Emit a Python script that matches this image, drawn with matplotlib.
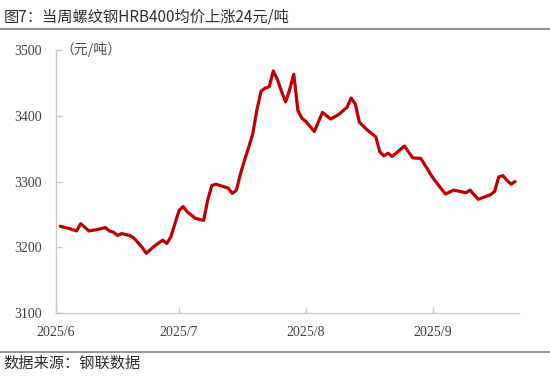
import matplotlib
matplotlib.use("Agg")
import matplotlib.pyplot as plt
from matplotlib.lines import Line2D
import pandas as pd

plt.rcParams['font.family'] = ['Noto Sans CJK SC', 'DejaVu Sans']

dates = [
    "2025-06-02", "2025-06-04", "2025-06-06", "2025-06-07", "2025-06-09", "2025-06-11",
    "2025-06-13", "2025-06-14", "2025-06-15", "2025-06-16", "2025-06-17", "2025-06-19",
    "2025-06-20", "2025-06-22", "2025-06-23", "2025-06-25", "2025-06-27", "2025-06-28",
    "2025-06-29", "2025-06-30", "2025-07-01", "2025-07-02", "2025-07-03", "2025-07-05",
    "2025-07-07", "2025-07-08", "2025-07-09", "2025-07-10", "2025-07-13", "2025-07-14",
    "2025-07-15", "2025-07-16", "2025-07-17", "2025-07-18", "2025-07-19", "2025-07-20",
    "2025-07-21", "2025-07-22", "2025-07-23", "2025-07-24", "2025-07-25", "2025-07-26",
    "2025-07-27", "2025-07-28", "2025-07-29", "2025-07-30", "2025-07-31", "2025-08-01",
    "2025-08-03", "2025-08-05", "2025-08-07", "2025-08-09", "2025-08-11", "2025-08-12",
    "2025-08-13", "2025-08-14", "2025-08-16", "2025-08-18", "2025-08-19", "2025-08-20",
    "2025-08-21", "2025-08-22", "2025-08-25", "2025-08-27", "2025-08-29", "2025-09-01",
    "2025-09-04", "2025-09-06", "2025-09-09", "2025-09-10", "2025-09-12", "2025-09-15",
    "2025-09-16", "2025-09-17", "2025-09-18", "2025-09-19", "2025-09-20", "2025-09-21",
]
prices = [
    3232, 3229, 3225, 3236, 3225, 3227,
    3230, 3225, 3223, 3218, 3221, 3218,
    3214, 3200, 3191, 3202, 3211, 3206,
    3216, 3236, 3256, 3262, 3254, 3244,
    3241, 3272, 3294, 3296, 3290, 3282,
    3287, 3312, 3333, 3352, 3373, 3409,
    3437, 3442, 3444, 3468, 3455, 3437,
    3421, 3440, 3463, 3408, 3396, 3391,
    3376, 3405, 3395, 3402, 3413, 3427,
    3418, 3390, 3378, 3368, 3345, 3339,
    3343, 3338, 3354, 3336, 3335, 3305,
    3281, 3287, 3283, 3287, 3273, 3280,
    3285, 3307, 3309, 3302, 3296, 3300,
]
month_ticks = ["2025-06-01", "2025-07-01", "2025-08-01", "2025-09-01"]
month_labels = ["2025/6", "2025/7", "2025/8", "2025/9"]
y_ticks = [3100, 3200, 3300, 3400, 3500]

title = "图7：当周螺纹钢HRB400均价上涨24元/吨"
unit = "（元/吨）"
source = "数据来源：钢联数据"

x = pd.to_datetime(dates)

fig = plt.figure(figsize=(5.5, 3.81), dpi=100)
ax = fig.add_axes([0.102, 0.178, 0.842, 0.691])

ax.plot(x, prices, color="#C00000", lw=2.3, solid_joinstyle="round", solid_capstyle="round")

ax.set_ylim(3100, 3500)
ax.set_xlim(pd.Timestamp("2025-06-01"), pd.Timestamp("2025-09-22"))
ax.set_yticks(y_ticks)
ax.set_xticks(pd.to_datetime(month_ticks))
ax.set_xticklabels(month_labels)

for s in ["top", "right"]:
    ax.spines[s].set_visible(False)
for s in ["left", "bottom"]:
    ax.spines[s].set_color("#c8c8c8")
    ax.spines[s].set_linewidth(1.0)

ax.tick_params(axis="both", direction="in", length=4, color="#c8c8c8", width=1.0,
               labelcolor="#404040")
ax.tick_params(axis="y", pad=10)
ax.tick_params(axis="x", pad=9)
for lab in ax.get_xticklabels() + ax.get_yticklabels():
    lab.set_fontfamily(["Liberation Serif"])
    lab.set_fontsize(10)

ax.text(0.01, 1.0, unit, transform=ax.transAxes, ha="left", va="center",
        fontsize=10, color="#505050")

fig.text(0.006, 1 - 16.5 / 381, title, ha="left", va="center", fontsize=11, color="#303030")
fig.text(0.006, 1 - 363 / 381, source, ha="left", va="center", fontsize=11, color="#303030")

fig.add_artist(Line2D([0, 1], [1 - 29.3 / 381] * 2, transform=fig.transFigure,
                      color="#808080", lw=1.2))
fig.add_artist(Line2D([0, 1], [1 - 351.5 / 381] * 2, transform=fig.transFigure,
                      color="#808080", lw=1.2))

fig.savefig("out.png", dpi=100)
